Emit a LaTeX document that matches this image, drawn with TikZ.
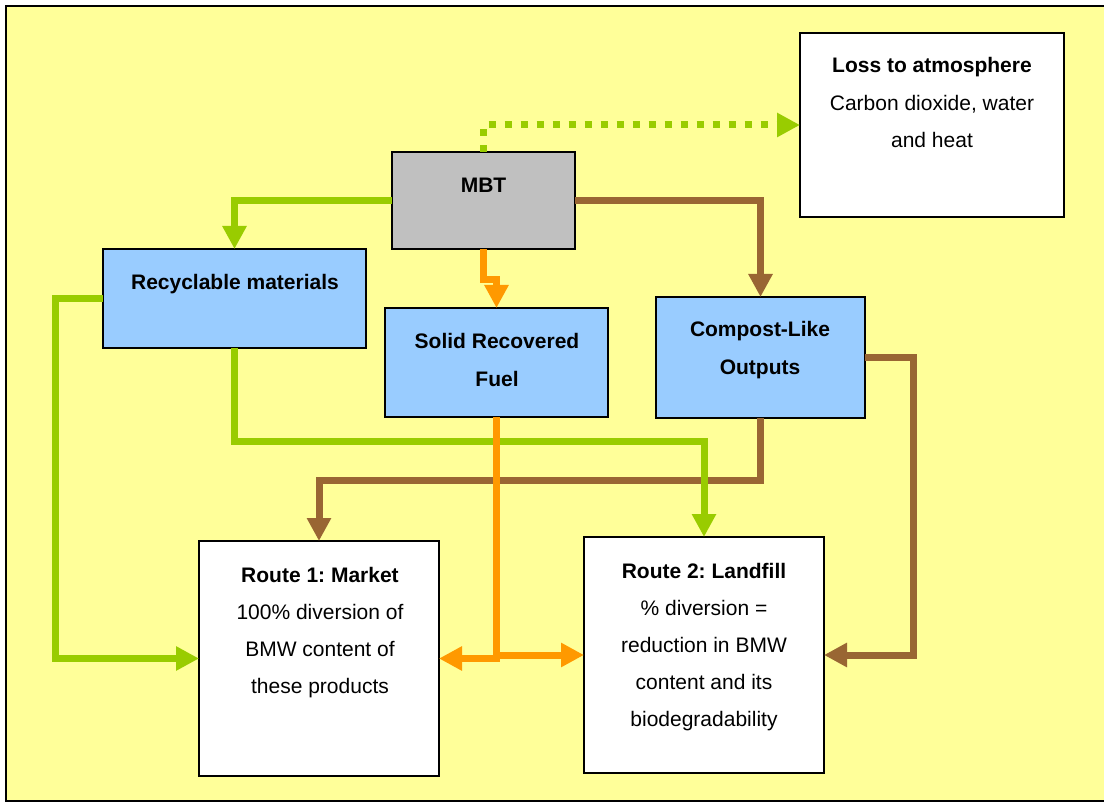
\documentclass[tikz,border=0pt]{standalone}
\usepackage{fontspec}
\setmainfont{Liberation Sans}
\usetikzlibrary{arrows.meta}
\definecolor{bgy}{HTML}{FFFF99}
\definecolor{boxblue}{HTML}{99CCFF}
\definecolor{boxgray}{HTML}{C0C0C0}
\definecolor{lgreen}{HTML}{99CC00}
\definecolor{lorange}{HTML}{FF9900}
\definecolor{lbrown}{HTML}{996633}
\frenchspacing
\begin{document}
\begin{tikzpicture}[x=1pt,y=-1pt,
  box/.style={draw=black, line width=2pt, inner sep=0pt, outer sep=0pt},
  lbl/.style={font=\fontsize{21}{25}\selectfont, inner sep=0pt, anchor=base},
  blbl/.style={font=\fontsize{21}{25}\selectfont\bfseries, inner sep=0pt, anchor=base},
  conn/.style={line width=7pt, -{Triangle[length=23pt,width=23pt]}}
]
\path[use as bounding box] (0,0) rectangle (1104,802);
\clip (0,0) rectangle (1104,802);
\draw[line width=2.5pt, fill=bgy] (6,6) rectangle (1200,801);

% boxes
\node[box, fill=white, minimum width=264pt, minimum height=184pt] (loss) at (932,125) {};
\node[box, fill=boxgray, minimum width=183pt, minimum height=97pt] (mbt) at (483.5,200.5) {};
\node[box, fill=boxblue, minimum width=263pt, minimum height=99pt] (rec) at (234.5,298.5) {};
\node[box, fill=boxblue, minimum width=223pt, minimum height=109pt] (srf) at (496.5,362.5) {};
\node[box, fill=boxblue, minimum width=209pt, minimum height=121pt] (col) at (760.5,357.5) {};
\node[box, fill=white, minimum width=240pt, minimum height=235pt] (r1) at (319,658.5) {};
\node[box, fill=white, minimum width=240pt, minimum height=236pt] (r2) at (704,655) {};

% texts
\node[blbl] (tloss1) at (932,73) {Loss to atmosphere};
\node[lbl] (tloss2) at (932,111) {Carbon dioxide, water};
\node[lbl] (tloss3) at (932,148) {and heat};
\node[blbl] (tmbt) at (483.5,193) {MBT};
\node[blbl] (trec) at (235,289.5) {Recyclable materials};
\node[blbl] (tsrf1) at (497,349) {Solid Recovered};
\node[blbl] (tsrf2) at (497,386.5) {Fuel};
\node[blbl] (tcol1) at (760,337) {Compost-Like};
\node[blbl] (tcol2) at (760,375) {Outputs};
\node[blbl] (tr1a) at (320,582) {Route 1: Market};
\node[lbl] (tr1b) at (320,619) {100\% diversion of};
\node[lbl] (tr1c) at (320,656) {BMW content of};
\node[lbl] (tr1d) at (320,693) {these products};
\node[blbl] (tr2a) at (704,578) {Route 2: Landfill};
\node[lbl] (tr2b) at (704,615) {\% diversion =};
\node[lbl] (tr2c) at (704,652) {reduction in BMW};
\node[lbl] (tr2d) at (704,689) {content and its};
\node[lbl] (tr2e) at (704,726) {biodegradability};

% coordinates for bends
\coordinate (oj) at (483.5,280);
\coordinate (rl) at (55,298.5);
\coordinate (rb) at (234.5,442);
\coordinate (cb) at (760.5,480);
\coordinate (cr) at (913,357.5);

% connectors from MBT
\draw[conn, lgreen, dash pattern=on 7pt off 9pt] (mbt.north) |- (loss.west);
\draw[conn, lgreen] (mbt.west) -| (rec.north);
\draw[conn, lorange] (mbt.south) -- (oj) -| (srf.north);
\draw[conn, lbrown] (mbt.east) -| (col.north);

% lower connectors
\draw[conn, lbrown] (col.south) -- (cb) -| (r1.north);
\draw[conn, lbrown] (col.east) -- (cr) |- (r2.east);
\draw[conn, lgreen] (rec.west) -- (rl) |- (r1.west);
\draw[conn, lgreen] (rec.south) -- (rb) -| (r2.north);
\draw[conn, lorange] (srf.south) |- (r1.east);
\draw[conn, lorange] (srf.south |- r2.west) -- (r2.west);
\end{tikzpicture}
\end{document}
